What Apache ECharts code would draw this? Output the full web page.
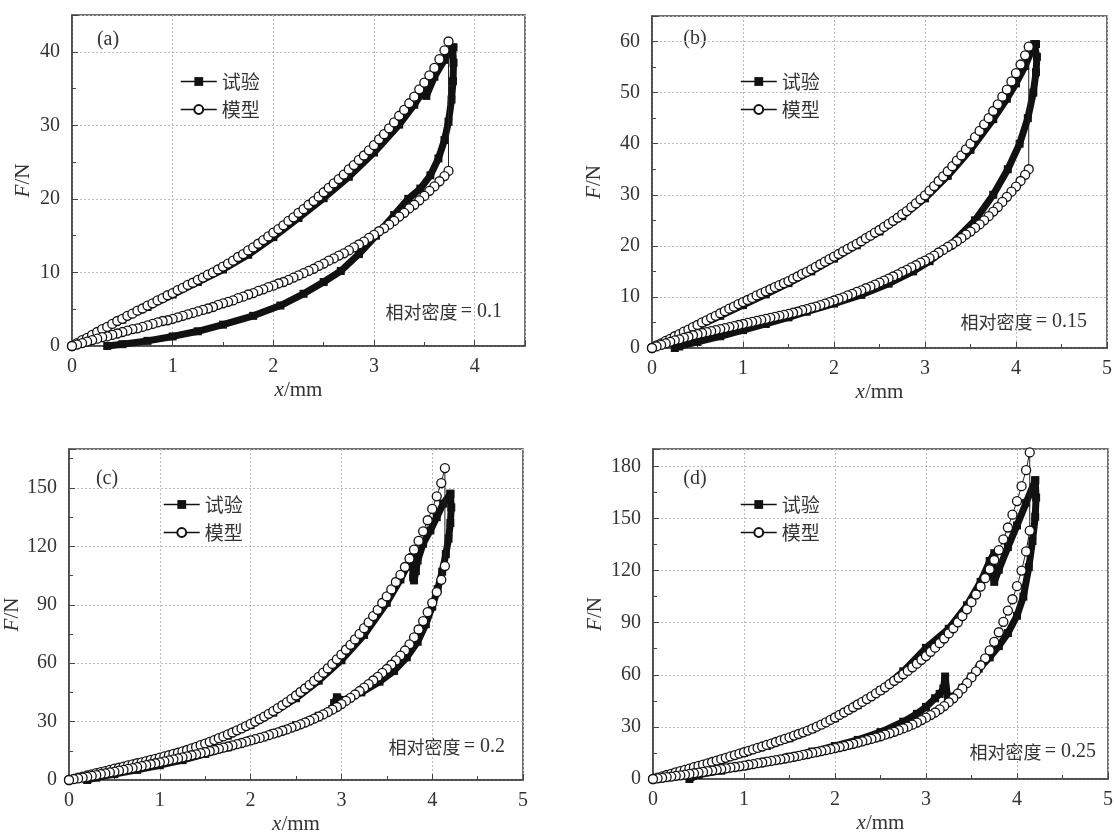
<!DOCTYPE html>
<html>
<head>
<meta charset="utf-8">
<title>F-x</title>
<script src="https://cdn.jsdelivr.net/npm/echarts@6/dist/echarts.min.js"></script>
<style>
html,body{margin:0;padding:0;background:#fff;}
#main{width:1114px;height:834px;}
</style>
</head>
<body>
<div id="main"></div>
<script>
// 模型曲线的位移点 (mm)
var xsA = [0,0.05,0.1,0.15,0.2,0.25,0.3,0.35,0.4,0.45,0.5,0.55,0.6,0.65,0.7,0.75,0.8,0.85,0.9,0.95,1,1.05,1.1,1.15,1.2,1.25,1.3,1.35,1.4,1.45,1.5,1.55,1.6,1.65,1.7,1.75,1.8,1.85,1.9,1.95,2,2.05,2.1,2.15,2.2,2.25,2.3,2.35,2.4,2.45,2.5,2.55,2.6,2.65,2.7,2.75,2.8,2.85,2.9,2.95,3,3.05,3.1,3.15,3.2,3.25,3.3,3.35,3.4,3.45,3.5,3.55,3.6,3.65,3.7,3.74];
var xsBCD = [0,0.05,0.1,0.15,0.2,0.25,0.3,0.35,0.4,0.45,0.5,0.55,0.6,0.65,0.7,0.75,0.8,0.85,0.9,0.95,1,1.05,1.1,1.15,1.2,1.25,1.3,1.35,1.4,1.45,1.5,1.55,1.6,1.65,1.7,1.75,1.8,1.85,1.9,1.95,2,2.05,2.1,2.15,2.2,2.25,2.3,2.35,2.4,2.45,2.5,2.55,2.6,2.65,2.7,2.75,2.8,2.85,2.9,2.95,3,3.05,3.1,3.15,3.2,3.25,3.3,3.35,3.4,3.45,3.5,3.55,3.6,3.65,3.7,3.75,3.8,3.85,3.9,3.95,4,4.05,4.1,4.14];

// (a) 相对密度 0.1
var modelUpA = [0,0.4,0.8,1.1,1.5,1.9,2.3,2.6,3.0,3.4,3.7,4.1,4.4,4.8,5.1,5.5,5.8,6.2,6.5,6.9,7.2,7.6,7.9,8.3,8.6,9.0,9.3,9.7,10.0,10.4,10.8,11.2,11.6,12.1,12.5,13.0,13.4,13.9,14.4,14.9,15.4,15.9,16.4,17.0,17.5,18.1,18.6,19.2,19.7,20.3,20.9,21.5,22.1,22.7,23.3,24.0,24.6,25.3,25.9,26.6,27.3,28.1,28.8,29.6,30.4,31.3,32.1,33.0,33.9,34.9,35.8,36.8,37.8,39.0,40.2,41.4];
var modelDownA = [0,0.2,0.4,0.6,0.8,1.0,1.2,1.3,1.5,1.7,1.9,2.1,2.3,2.4,2.6,2.8,3.0,3.2,3.4,3.5,3.7,3.9,4.1,4.3,4.5,4.7,4.9,5.1,5.3,5.6,5.8,6.0,6.2,6.5,6.7,7.0,7.2,7.5,7.7,8.0,8.2,8.5,8.7,9.0,9.3,9.6,9.9,10.2,10.5,10.9,11.2,11.6,11.9,12.3,12.6,13.0,13.4,13.8,14.2,14.7,15.1,15.6,16.0,16.5,17.0,17.6,18.1,18.7,19.2,19.8,20.4,21.1,21.7,22.4,23.1,23.8];
var expUpA = [[0,0],[0.25,1.8],[0.5,3.6],[0.75,5.3],[1.0,7.0],[1.25,8.7],[1.5,10.4],[1.75,12.4],[2.0,14.8],[2.25,17.4],[2.5,20.1],[2.75,23.0],[3.0,26.3],[3.25,30.1],[3.4,32.8],[3.5,34.9],[3.52,34.0],[3.6,36.6],[3.7,38.9],[3.78,40.6]];
var expDownA = [[3.79,40.6],[3.79,38.5],[3.785,36],[3.77,33.5],[3.74,30.5],[3.70,28],[3.64,25.5],[3.56,23.2],[3.46,21.4],[3.34,20],[3.2,17.8],[3.02,15.0],[2.85,12.5],[2.67,10.2],[2.5,8.7],[2.3,7.1],[2.07,5.5],[1.8,4.1],[1.5,2.9],[1.25,2.0],[1.0,1.3],[0.75,0.7],[0.5,0.25],[0.35,0]];

// (b) 相对密度 0.15
var modelUpB = [0,0.5,0.9,1.4,1.8,2.3,2.7,3.2,3.6,4.1,4.5,5.0,5.4,5.9,6.3,6.8,7.2,7.7,8.1,8.6,9.0,9.4,9.8,10.3,10.7,11.1,11.5,11.9,12.3,12.7,13.1,13.6,14.0,14.5,14.9,15.4,15.9,16.4,16.9,17.4,17.9,18.4,18.9,19.4,19.9,20.4,20.9,21.5,22.0,22.6,23.1,23.7,24.3,24.9,25.5,26.2,26.8,27.6,28.3,29.1,29.9,30.8,31.7,32.7,33.6,34.6,35.6,36.7,37.7,38.9,40.0,41.3,42.5,43.8,45.0,46.4,47.7,49.2,50.6,52.2,53.8,55.5,57.3,59.0];
var modelDownB = [0,0.3,0.6,0.9,1.2,1.5,1.7,2.0,2.2,2.5,2.7,2.9,3.1,3.3,3.5,3.7,3.9,4.1,4.3,4.5,4.7,4.9,5.1,5.3,5.5,5.7,5.9,6.1,6.3,6.5,6.7,6.9,7.1,7.4,7.6,7.9,8.1,8.4,8.7,9.0,9.3,9.6,9.9,10.3,10.6,11.0,11.3,11.7,12.0,12.4,12.8,13.2,13.6,14.0,14.4,14.9,15.3,15.8,16.2,16.7,17.1,17.6,18.1,18.7,19.2,19.8,20.3,20.9,21.5,22.2,22.8,23.5,24.2,25.0,25.8,26.7,27.6,28.6,29.6,30.6,31.6,32.7,33.9,35.0];
var expUpB = [[0,0],[0.25,2.1],[0.5,4.2],[0.75,6.3],[1.0,8.4],[1.25,10.5],[1.5,12.7],[1.75,15.0],[2.0,17.5],[2.25,20.1],[2.5,22.8],[2.75,25.8],[3.0,29.3],[3.25,33.7],[3.5,38.8],[3.75,44.8],[3.9,48.8],[4.0,51.8],[4.1,55.2],[4.2,59.5]];
var expDownB = [[4.22,59.5],[4.23,57],[4.22,54],[4.19,50],[4.13,45],[4.04,40],[3.91,35],[3.75,30],[3.55,25],[3.27,20],[3.05,17],[2.87,15],[2.6,12.6],[2.3,10.4],[2.0,8.7],[1.7,7.1],[1.5,6.0],[1.25,4.7],[1.0,3.5],[0.75,2.3],[0.5,1.2],[0.3,0.3],[0.25,0]];

// (c) 相对密度 0.2
var modelUpC = [0,0.6,1.2,1.7,2.3,2.9,3.5,4.0,4.6,5.2,5.8,6.3,6.9,7.5,8.0,8.6,9.1,9.7,10.3,10.9,11.5,12.1,12.7,13.4,14.0,14.7,15.4,16.2,17.0,17.9,18.7,19.6,20.5,21.5,22.4,23.4,24.4,25.5,26.5,27.7,28.8,30.0,31.3,32.6,34.0,35.4,36.9,38.4,40.0,41.7,43.4,45.2,47.0,48.9,50.9,53.0,55.1,57.3,59.6,62.0,64.4,66.9,69.4,72.2,75.0,78.0,81.0,84.2,87.4,90.9,94.3,97.9,101.7,105.4,109.4,113.7,118.3,122.8,127.7,133.4,139.2,145.7,152.5,160.2];
var modelDownC = [0,0.4,0.8,1.2,1.6,2.1,2.5,3.0,3.4,3.9,4.3,4.8,5.2,5.7,6.1,6.6,7.1,7.6,8.1,8.6,9.1,9.6,10.1,10.6,11.1,11.6,12.1,12.7,13.2,13.8,14.3,14.9,15.4,16.0,16.6,17.2,17.8,18.4,19.0,19.7,20.3,21.0,21.6,22.3,23.0,23.8,24.5,25.3,26.0,26.9,27.7,28.6,29.5,30.5,31.5,32.6,33.7,34.9,36.1,37.5,39.0,40.6,42.2,43.9,45.7,47.4,49.2,51.1,53.0,55.0,57.0,59.2,61.4,63.9,66.5,69.7,73.3,77.3,81.6,86.2,91.0,96.5,102.8,109.9];
var expUpC = [[0,0],[0.25,2.7],[0.5,5.5],[0.75,8.3],[1.0,11.2],[1.25,14.4],[1.5,18.2],[1.75,22.8],[2.0,28.2],[2.25,34.6],[2.5,42.0],[2.75,51.0],[3.0,61.5],[3.25,74.5],[3.5,91.0],[3.65,103.0],[3.72,109.5],[3.78,114.5],[3.79,104],[3.80,102.5],[3.82,107.3],[3.84,112.8],[3.9,121.4],[3.98,128.2],[4.05,135],[4.12,141.9],[4.2,147]];
var expDownC = [[4.2,147],[4.21,140],[4.2,132],[4.18,124],[4.15,116],[4.11,107],[4.06,98],[4.0,89],[3.93,80],[3.84,71],[3.72,63],[3.58,56],[3.42,50.5],[3.22,45],[3.02,41],[2.95,42.5],[2.92,39.5],[2.9,36.5],[2.75,33],[2.5,28.2],[2.25,24],[2.0,20.4],[1.75,16.8],[1.5,13.4],[1.25,10.2],[1.0,7.6],[0.75,5.2],[0.5,3.0],[0.3,1.2],[0.2,0]];

// (d) 相对密度 0.25
var modelUpD = [0,0.8,1.5,2.3,3.0,3.8,4.5,5.3,6.0,6.8,7.5,8.3,9.0,9.8,10.6,11.4,12.2,13.0,13.8,14.6,15.4,16.2,17.0,17.9,18.7,19.6,20.4,21.3,22.2,23.1,24.0,25.0,25.9,26.9,27.9,29.0,30.1,31.3,32.6,34.0,35.4,36.9,38.3,39.8,41.3,42.9,44.4,46.0,47.6,49.3,51.0,52.8,54.6,56.5,58.3,60.3,62.2,64.3,66.4,68.6,70.8,73.2,75.6,78.2,80.9,83.8,86.8,90.2,93.8,97.7,101.8,106.2,110.8,115.6,120.7,126.1,131.8,138.0,144.8,152.2,160.0,168.6,177.8,188.0];
var modelDownD = [0,0.4,0.7,1.1,1.4,1.8,2.1,2.5,2.9,3.3,3.7,4.1,4.5,4.9,5.3,5.7,6.1,6.5,6.9,7.3,7.7,8.2,8.6,9.1,9.5,10.0,10.4,10.9,11.3,11.8,12.3,12.8,13.3,13.9,14.4,15.0,15.5,16.1,16.6,17.2,17.8,18.4,19.0,19.7,20.3,21.0,21.7,22.4,23.1,23.9,24.6,25.5,26.3,27.2,28.1,29.1,30.1,31.3,32.5,33.9,35.3,36.8,38.3,40.1,42.0,44.2,46.5,49.2,52.0,55.2,58.5,62.0,65.5,69.5,74.0,79.0,84.5,90.5,97.0,103.5,111.0,120.0,131.0,143.0];
var expUpD = [[0,0],[0.25,3.6],[0.5,7.3],[0.75,11.0],[1.0,15.0],[1.25,19.0],[1.5,23.5],[1.75,28.7],[2.0,35.0],[2.25,42.5],[2.5,51.0],[2.75,62.0],[3.0,75.5],[3.25,86.5],[3.45,100.0],[3.6,113.5],[3.7,125.5],[3.75,130.0],[3.73,119],[3.75,113.5],[3.8,120.5],[3.9,133.5],[4.0,146],[4.1,159],[4.2,172]];
var expDownD = [[4.2,172],[4.21,162],[4.2,151],[4.17,137],[4.13,122],[4.07,105],[4.0,94],[3.9,84],[3.8,76.5],[3.7,70],[3.58,63.5],[3.5,59],[3.4,52.5],[3.3,47.5],[3.24,45.5],[3.21,59],[3.19,52],[3.15,49],[3.1,46.5],[3.0,41.5],[2.9,37.5],[2.75,33],[2.5,27],[2.25,22.5],[2.0,19],[1.75,15.8],[1.5,12.8],[1.25,10],[1.0,7.3],[0.75,4.8],[0.5,2.4],[0.4,0]];

var xMax = [4.5, 5, 5, 5];
var yMax = [45, 65, 170, 190];
var yStep = [10, 10, 30, 30];
var panelTags = ['(a)', '(b)', '(c)', '(d)'];
var densityTags = ['0.1', '0.15', '0.2', '0.25'];

var serif = 'Liberation Serif';
var cjk = 'Noto Sans CJK SC';
var ink = '#333';

// 加载段 + 卸载段 连成一条回线
function loop(xs, up, down) {
    var res = [];
    for (var i = 0; i < xs.length; i++) res.push([xs[i], up[i]]);
    for (var j = xs.length - 1; j >= 0; j--) res.push([xs[j], down[j]]);
    return res;
}

var grids = [
    {left: 72, top: 15, width: 453, height: 331},
    {left: 652, top: 16, width: 455, height: 332},
    {left: 69, top: 449, width: 454, height: 331},
    {left: 653, top: 449, width: 455, height: 330}
];
var yNameGap = [38, 47, 40, 47];
var xMaxLabel = [false, true, true, true];
var yMaxLabel = [false, false, false, null];
var legendPos = [[180, 72], [740, 72], [163, 495], [740, 495]];
var tagPos = [[108, 40], [695, 39], [107, 479], [695, 479]];
var notePos = [[502, 312], [1087, 322], [505, 747], [1096, 752]];

var models = [loop(xsA, modelUpA, modelDownA), loop(xsBCD, modelUpB, modelDownB),
    loop(xsBCD, modelUpC, modelDownC), loop(xsBCD, modelUpD, modelDownD)];
var exps = [expUpA.concat(expDownA), expUpB.concat(expDownB),
    expUpC.concat(expDownC), expUpD.concat(expDownD)];

var xAxes = [], yAxes = [], series = [], legends = [], texts = [];
for (var k = 0; k < 4; k++) {
    grids[k].show = true;
    grids[k].borderColor = '#444';
    grids[k].borderWidth = 1.5;
    grids[k].backgroundColor = '#fff';
    grids[k].outerBoundsMode = 'none';

    xAxes.push({
        type: 'value', gridIndex: k, min: 0, max: xMax[k], interval: 1,
        name: '{i|x}/mm', nameLocation: 'middle', nameGap: 34,
        nameTextStyle: {fontFamily: serif, fontSize: 21, color: ink,
            rich: {i: {fontFamily: serif, fontSize: 21, fontStyle: 'italic', color: ink}}},
        axisLine: {lineStyle: {color: '#444', width: 1.5}},
        axisTick: {inside: true, length: 6, lineStyle: {color: '#444'}},
        minorTick: {show: true, splitNumber: 2, length: 4, lineStyle: {color: '#444'}},
        axisLabel: {margin: 11, fontFamily: serif, fontSize: 20, color: ink, showMaxLabel: xMaxLabel[k]},
        splitLine: {show: true, lineStyle: {type: [2, 2], color: '#bbb'}}
    });
    yAxes.push({
        type: 'value', gridIndex: k, min: 0, max: yMax[k], interval: yStep[k],
        name: '{i|F}/N', nameLocation: 'middle', nameRotate: 90, nameGap: yNameGap[k],
        nameTextStyle: {fontFamily: serif, fontSize: 21, color: ink,
            rich: {i: {fontFamily: serif, fontSize: 21, fontStyle: 'italic', color: ink}}},
        axisLine: {lineStyle: {color: '#444', width: 1.5}},
        axisTick: {inside: true, length: 6, lineStyle: {color: '#444'}},
        minorTick: {show: true, splitNumber: 2, length: 4, lineStyle: {color: '#444'}},
        axisLabel: {margin: 12, fontFamily: serif, fontSize: 20, color: ink, showMaxLabel: yMaxLabel[k]},
        splitLine: {show: true, lineStyle: {type: [2, 2], color: '#bbb'}}
    });
    series.push({
        name: '试验', type: 'line', xAxisIndex: k, yAxisIndex: k, data: exps[k],
        symbol: 'rect', symbolSize: 8, showAllSymbol: true, z: 2,
        itemStyle: {color: '#111'},
        lineStyle: {color: '#111', width: 7}
    });
    series.push({
        name: '模型', type: 'line', xAxisIndex: k, yAxisIndex: k, data: models[k],
        symbol: 'circle', symbolSize: 9, showAllSymbol: true, z: 3,
        itemStyle: {color: '#fff', borderColor: '#111', borderWidth: 1.3},
        lineStyle: {color: '#222', width: 1}
    });
    legends.push({
        left: legendPos[k][0], top: legendPos[k][1], orient: 'vertical',
        data: ['试验', '模型'], itemWidth: 36, itemHeight: 11, itemGap: 9,
        padding: 0, selectedMode: false,
        lineStyle: {width: 1.5, color: '#111'},
        textStyle: {fontFamily: cjk, fontSize: 19, color: ink}
    });
    texts.push({
        type: 'text', x: tagPos[k][0], y: tagPos[k][1],
        style: {text: panelTags[k], font: '20px "' + serif + '"', fill: ink,
            textAlign: 'center', align: 'center', textVerticalAlign: 'middle', verticalAlign: 'middle'}
    });
    texts.push({
        type: 'text', x: notePos[k][0], y: notePos[k][1],
        style: {text: '{c|相对密度} {n|= ' + densityTags[k] + '}',
            rich: {c: {fontFamily: cjk, fontSize: 18, fill: ink, color: ink},
                   n: {fontFamily: serif, fontSize: 20, fill: ink, color: ink}},
            fill: ink,
            textAlign: 'right', align: 'right', textVerticalAlign: 'middle', verticalAlign: 'middle'}
    });
}

var myChart = echarts.init(document.getElementById('main'));
var option = {
    animation: false,
    backgroundColor: '#fff',
    textStyle: {fontFamily: serif},
    grid: grids,
    xAxis: xAxes,
    yAxis: yAxes,
    legend: legends,
    graphic: texts,
    series: series
};
myChart.setOption(option);
</script>
</body>
</html>
